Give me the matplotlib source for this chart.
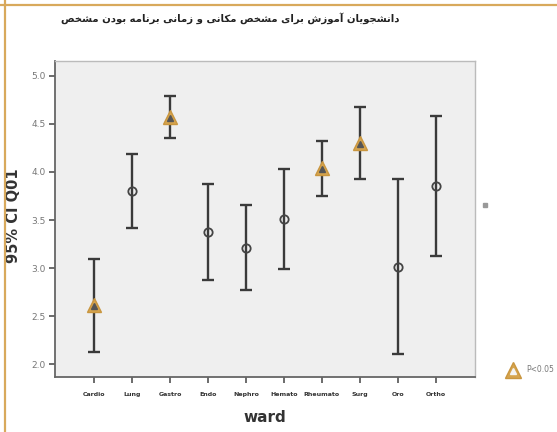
import matplotlib
matplotlib.use("Agg")
import matplotlib.pyplot as plt
from matplotlib.lines import Line2D

# ---- data -------------------------------------------------------------
wards = ["Cardio", "Lung", "Gastro", "Endo", "Nephro", "Hemato",
         "Rheumato", "Surg", "Oro", "Ortho"]
means = [2.61, 3.80, 4.57, 3.38, 3.21, 3.51, 4.04, 4.30, 3.01, 3.85]
ci_low = [2.13, 3.42, 4.35, 2.88, 2.77, 2.99, 3.75, 3.93, 2.10, 3.13]
ci_high = [3.09, 4.19, 4.79, 3.88, 3.66, 4.03, 4.32, 4.68, 3.93, 4.58]
significant = [True, False, True, False, False, False, True, True, False, False]
y_ticks = [2.0, 2.5, 3.0, 3.5, 4.0, 4.5, 5.0]

title_text = "مشخص بودن برنامه زمانی و مکانی مشخص برای آموزش دانشجویان"
y_label = "95% CI Q01"
x_label = "ward"
legend_label = "P<0.05"

# ---- minimal Arabic-script shaping (presentation forms) ---------------
FORMS = {  # isolated, final, initial, medial
    "\u0645": ("\uFEE1", "\uFEE2", "\uFEE3", "\uFEE4"),
    "\u0634": ("\uFEB5", "\uFEB6", "\uFEB7", "\uFEB8"),
    "\u062E": ("\uFEA5", "\uFEA6", "\uFEA7", "\uFEA8"),
    "\u0635": ("\uFEB9", "\uFEBA", "\uFEBB", "\uFEBC"),
    "\u0628": ("\uFE8F", "\uFE90", "\uFE91", "\uFE92"),
    "\u0646": ("\uFEE5", "\uFEE6", "\uFEE7", "\uFEE8"),
    "\u0647": ("\uFEE9", "\uFEEA", "\uFEEB", "\uFEEC"),
    "\u06CC": ("\uFBFC", "\uFBFD", "\uFBFE", "\uFBFF"),
    "\u06A9": ("\uFB8E", "\uFB8F", "\uFB90", "\uFB91"),
    "\u062C": ("\uFE9D", "\uFE9E", "\uFE9F", "\uFEA0"),
    "\u0648": ("\uFEED", "\uFEEE", None, None),
    "\u062F": ("\uFEA9", "\uFEAA", None, None),
    "\u0631": ("\uFEAD", "\uFEAE", None, None),
    "\u0632": ("\uFEAF", "\uFEB0", None, None),
    "\u0627": ("\uFE8D", "\uFE8E", None, None),
    "\u0622": ("\uFE81", "\uFE82", None, None),
}


def shape_word(word):
    """Join the letters of one word and put them in right-to-left order."""
    def dual(c):
        return c in FORMS and FORMS[c][2] is not None

    out = []
    for i, c in enumerate(word):
        if c not in FORMS:
            out.append(c)
            continue
        prev = word[i - 1] if i > 0 else ""
        nxt = word[i + 1] if i + 1 < len(word) else ""
        jp = dual(prev)
        jn = dual(c) and nxt in FORMS
        iso, fin, ini, med = FORMS[c]
        if jp and jn:
            out.append(med)
        elif jp:
            out.append(fin)
        elif jn:
            out.append(ini)
        else:
            out.append(iso)
    return "".join(reversed(out))


def shape_line(text):
    # words keep their left-to-right sequence, as in the printed heading
    return " ".join(shape_word(w) for w in text.split(" "))


# ---- figure -----------------------------------------------------------
plt.rcParams["font.family"] = ["DejaVu Sans"]
fig = plt.figure(figsize=(5.57, 4.32), dpi=100)
fig.patch.set_facecolor("white")

ax = fig.add_axes([0.0987, 0.1273, 0.7541, 0.7315])
ax.set_facecolor("#efefef")

x = list(range(len(wards)))
bar_color = "#3a3a3a"
lower_err = [m - lo for m, lo in zip(means, ci_low)]
upper_err = [hi - m for m, hi in zip(means, ci_high)]
ax.errorbar(x, means, yerr=[lower_err, upper_err], fmt="none",
            ecolor=bar_color, elinewidth=1.7, capsize=4, capthick=1.7,
            zorder=2)

for xi, m, sig in zip(x, means, significant):
    if sig:
        ax.plot(xi, m, marker="^", markersize=10.5, color="#d6a44e",
                markeredgecolor="#c9963f", zorder=3)
        ax.plot(xi, m - 0.005, marker="^", markersize=4, color="#555555",
                markeredgecolor="#555555", zorder=4)
    else:
        ax.plot(xi, m, marker="o", markersize=6, markerfacecolor="none",
                markeredgecolor="#444444", markeredgewidth=1.3, zorder=3)

ax.set_xlim(-1.04, 10.04)
ax.set_ylim(1.865, 5.156)
ax.set_xticks(x)
ax.set_xticklabels(wards, fontsize=4.5, color="#333333", fontweight="bold")
ax.set_yticks(y_ticks)
ax.set_yticklabels([f"{v:.1f}" for v in y_ticks], fontsize=6.5,
                   color="#777777")
ax.tick_params(axis="both", direction="out", length=4.5, width=1.1,
               color="#444444")
ax.tick_params(axis="x", pad=6)
ax.tick_params(axis="y", pad=2)

for side in ("top", "right"):
    ax.spines[side].set_color("#bbbbbb")
    ax.spines[side].set_linewidth(1.0)
for side in ("left", "bottom"):
    ax.spines[side].set_color("#666666")
    ax.spines[side].set_linewidth(1.3)

ax.set_xlabel(x_label, fontsize=11, fontweight="bold", color="#333333",
              labelpad=10)
ax.set_ylabel(y_label, fontsize=10.5, fontweight="bold", color="#333333")
ax.yaxis.set_label_coords(-0.081, 0.51)

# title
fig.text(0.413, 0.958, shape_line(title_text), fontsize=7.3,
         color="#222222", ha="center", va="center", fontweight="bold",
         family=["DejaVu Sans"])

# legend entries at the right
fig.add_artist(Line2D([485 / 557], [1 - 205 / 432], marker="s",
                      markersize=3, color="#999999", linestyle="none",
                      transform=fig.transFigure))
fig.add_artist(Line2D([513 / 557], [1 - 370 / 432], marker="^",
                      markersize=11, color="#d6a44e",
                      markeredgecolor="#c9963f", linestyle="none",
                      transform=fig.transFigure))
fig.add_artist(Line2D([513 / 557], [1 - 371 / 432], marker="^",
                      markersize=4.5, color="#f4f4f4",
                      markeredgecolor="#f4f4f4", linestyle="none",
                      transform=fig.transFigure))
fig.text(526 / 557, 1 - 370 / 432, legend_label, fontsize=5.5,
         color="#777777", ha="left", va="center")

# tan frame on the top and left edges
fig.add_artist(Line2D([0, 1], [1 - 5 / 432, 1 - 5 / 432], color="#d8a95c",
                      linewidth=1.6, transform=fig.transFigure))
fig.add_artist(Line2D([5 / 557, 5 / 557], [0, 1], color="#d8a95c",
                      linewidth=1.6, transform=fig.transFigure))

fig.savefig("out.png", dpi=100, facecolor="white")
